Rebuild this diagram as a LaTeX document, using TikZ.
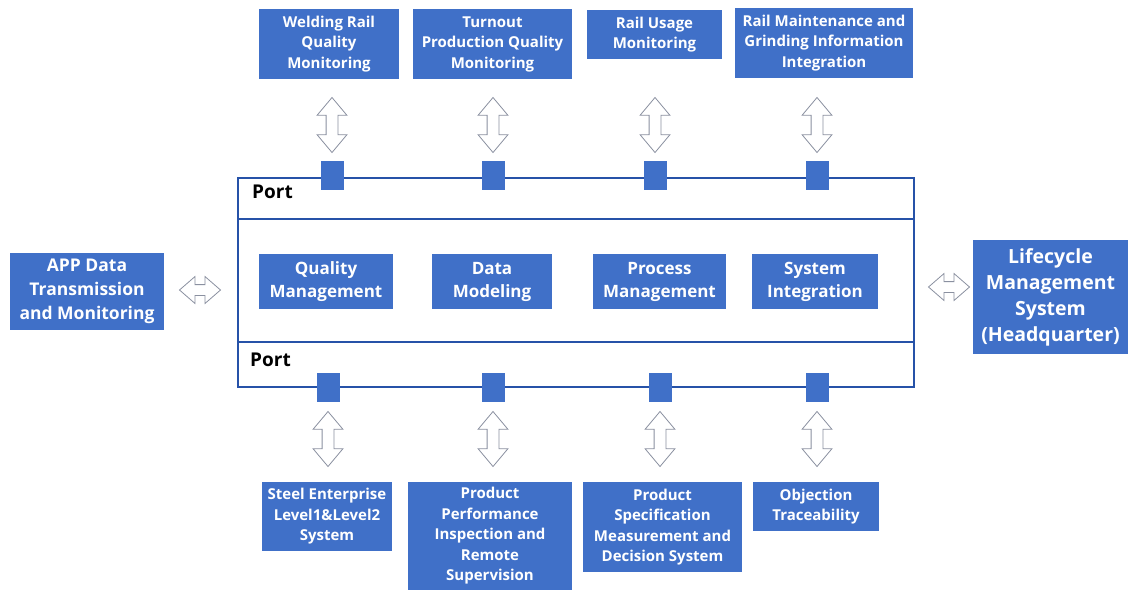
\documentclass[tikz,border=0pt]{standalone}
\usepackage{fontspec}
\setmainfont{Open Sans}
\usetikzlibrary{shapes.arrows}

\definecolor{boxblue}{RGB}{64,112,200}
\definecolor{frameblue}{RGB}{38,82,168}
\definecolor{arrowgray}{RGB}{138,144,160}

\tikzset{
	blk/.style={fill=boxblue, text=white, align=center, inner sep=0pt, font=\bfseries\fontsize{15}{20.5}\selectfont},
	bigblk/.style={blk, font=\bfseries\fontsize{17}{23}\selectfont},
	portsq/.style={fill=boxblue, minimum width=23pt, minimum height=29pt, inner sep=0pt},
	dblarr/.style={double arrow, draw=arrowgray, fill=white, line width=0.8pt, inner sep=0pt, inner ysep=5.5pt,
		minimum height=55pt, double arrow head extend=9pt, double arrow tip angle=80},
	sidearr/.style={dblarr, minimum height=41pt, inner ysep=5pt, double arrow head extend=8pt, double arrow tip angle=82},
	frame/.style={draw=frameblue, line width=1.8pt},
	portlabel/.style={anchor=base west, inner sep=0pt, font=\bfseries\fontsize{19}{22}\selectfont}
}

\begin{document}
\begin{tikzpicture}[x=1pt, y=-1pt]
			\useasboundingbox (0,0) rectangle (1129,590);
			\coordinate (nw) at (238,178);
			\coordinate (se) at (914,387);
			\coordinate (topsep) at (0,219);
			\coordinate (botsep) at (0,342);
			\draw[frame] (nw) rectangle (se);
			\draw[frame] (nw |- topsep) -- (se |- topsep);
			\draw[frame] (nw |- botsep) -- (se |- botsep);
			\node[portlabel] (porttop) at (252,198) {Port};
			\node[portlabel] (portbot) at (250,366) {Port};
			% modules in the middle band
			\node[bigblk, minimum width=134pt, minimum height=55pt] (quality) at (326,281.5) {Quality\\Management};
			\node[bigblk, minimum width=120pt, minimum height=55pt] (modeling) at (492,281.5) {Data\\Modeling};
			\node[bigblk, minimum width=133pt, minimum height=55pt] (process) at (659.5,281.5) {Process\\Management};
			\node[bigblk, minimum width=126pt, minimum height=55pt] (integ) at (815,281.5) {System\\Integration};
			% side systems
			\node[blk, font=\bfseries\fontsize{17.5}{24}\selectfont, minimum width=154pt, minimum height=77pt] (app) at (87,291.5) {APP Data\\Transmission\\and Monitoring};
			\node[blk, font=\bfseries\fontsize{19.5}{26}\selectfont, minimum width=155pt, minimum height=114pt] (life) at (1050.5,297) {Lifecycle\\Management\\System\\(Headquarter)};
			\node[sidearr] (apparr) at (200,290) {};
			\node[sidearr] (lifearr) at (949,287) {};
			% upper row
			\node[blk, minimum width=140pt, minimum height=70pt] (weld) at (329,44) {Welding Rail\\Quality\\Monitoring};
			\node[blk, minimum width=159pt, minimum height=70pt] (turnout) at (492.5,44) {Turnout\\Production Quality\\Monitoring};
			\node[blk, minimum width=135pt, minimum height=49pt] (usage) at (654.5,34.5) {Rail Usage\\Monitoring};
			\node[blk, minimum width=178pt, minimum height=70pt] (maint) at (824,43) {Rail Maintenance and\\Grinding Information\\Integration};
			% lower row
			\node[blk, minimum width=130pt, minimum height=69pt] (steel) at (327,516.5) {Steel Enterprise\\Level1\&Level2\\System};
			\node[blk, minimum width=164pt, minimum height=108pt] (perf) at (490,536) {Product\\Performance\\Inspection and\\Remote\\Supervision};
			\node[blk, minimum width=159pt, minimum height=90pt] (spec) at (662.5,527) {Product\\Specification\\Measurement and\\Decision System};
			\node[blk, minimum width=126pt, minimum height=49pt] (obj) at (816,506.5) {Objection\\Traceability};
			% ports on the frame and the links to them
			\foreach \xt/\xb [count=\i] in {332/328, 493/493, 655/660, 817/817} {
				\node[portsq] (su\i) at (\xt,175) {};
				\node[portsq] (sd\i) at (\xb,387) {};
				\node[dblarr, rotate=90] (au\i) at (\xt,125) {};
				\node[dblarr, rotate=90] (ad\i) at (\xb,439) {};
			}
		\end{tikzpicture}
\end{document}
